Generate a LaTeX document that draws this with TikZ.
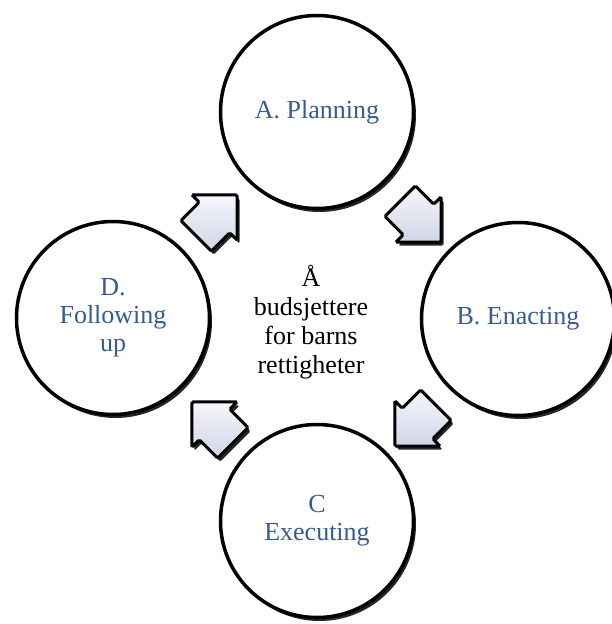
\documentclass[tikz,border=0pt]{standalone}
\usepackage{fontspec}
\setmainfont{Liberation Serif}
\usepackage{xcolor}
\usepackage{tikz}
\usetikzlibrary{shapes.arrows,shadows}

\definecolor{stagetext}{RGB}{54,92,145}
\definecolor{arrowtop}{RGB}{246,247,252}
\definecolor{arrowbottom}{RGB}{208,213,230}

\begin{document}
\begin{tikzpicture}[
    x=1pt, y=-1pt,
    stage/.style={circle, draw, line width=3.5pt, fill=white, minimum size=193pt, align=center,
        text=stagetext, font=\fontsize{26}{28}\selectfont,
        drop shadow={shadow xshift=2.5pt, shadow yshift=-3.5pt, opacity=0.85, fill=black}},
    centre/.style={align=center, font=\fontsize{26}{29}\selectfont},
    flow/.style={single arrow, draw, line width=3pt, rounded corners=1.5pt,
        inner xsep=0pt, inner ysep=20pt, minimum height=58pt,
        single arrow head extend=10.5pt, single arrow tip angle=90,
        top color=arrowtop, bottom color=arrowbottom, rotate=#1,
        drop shadow={shadow xshift=2.5pt, shadow yshift=-3.5pt, opacity=0.85, fill=black}}
]
\useasboundingbox (0,0) rectangle (612,624);

% Stages of the cycle
\node[stage] (planning) at (317,112) {A. Planning};
\node[stage] (enacting) at (518,319) {B. Enacting};
\node[stage] (executing) at (317,521) {C\\Executing};
\node[stage] (following) at (113,318) {D.\\Following\\up};

% Centre text
\node[centre] (budget) at (311,322) {Å\\budsjettere\\for barns\\rettigheter};

% Flow arrows
\node[flow=45] (d_to_a) at (209,223) {};
\node[flow=-45] (a_to_b) at (413,214) {};
\node[flow=-135] (b_to_c) at (423,418) {};
\node[flow=135] (c_to_d) at (220,430) {};

\end{tikzpicture}
\end{document}
